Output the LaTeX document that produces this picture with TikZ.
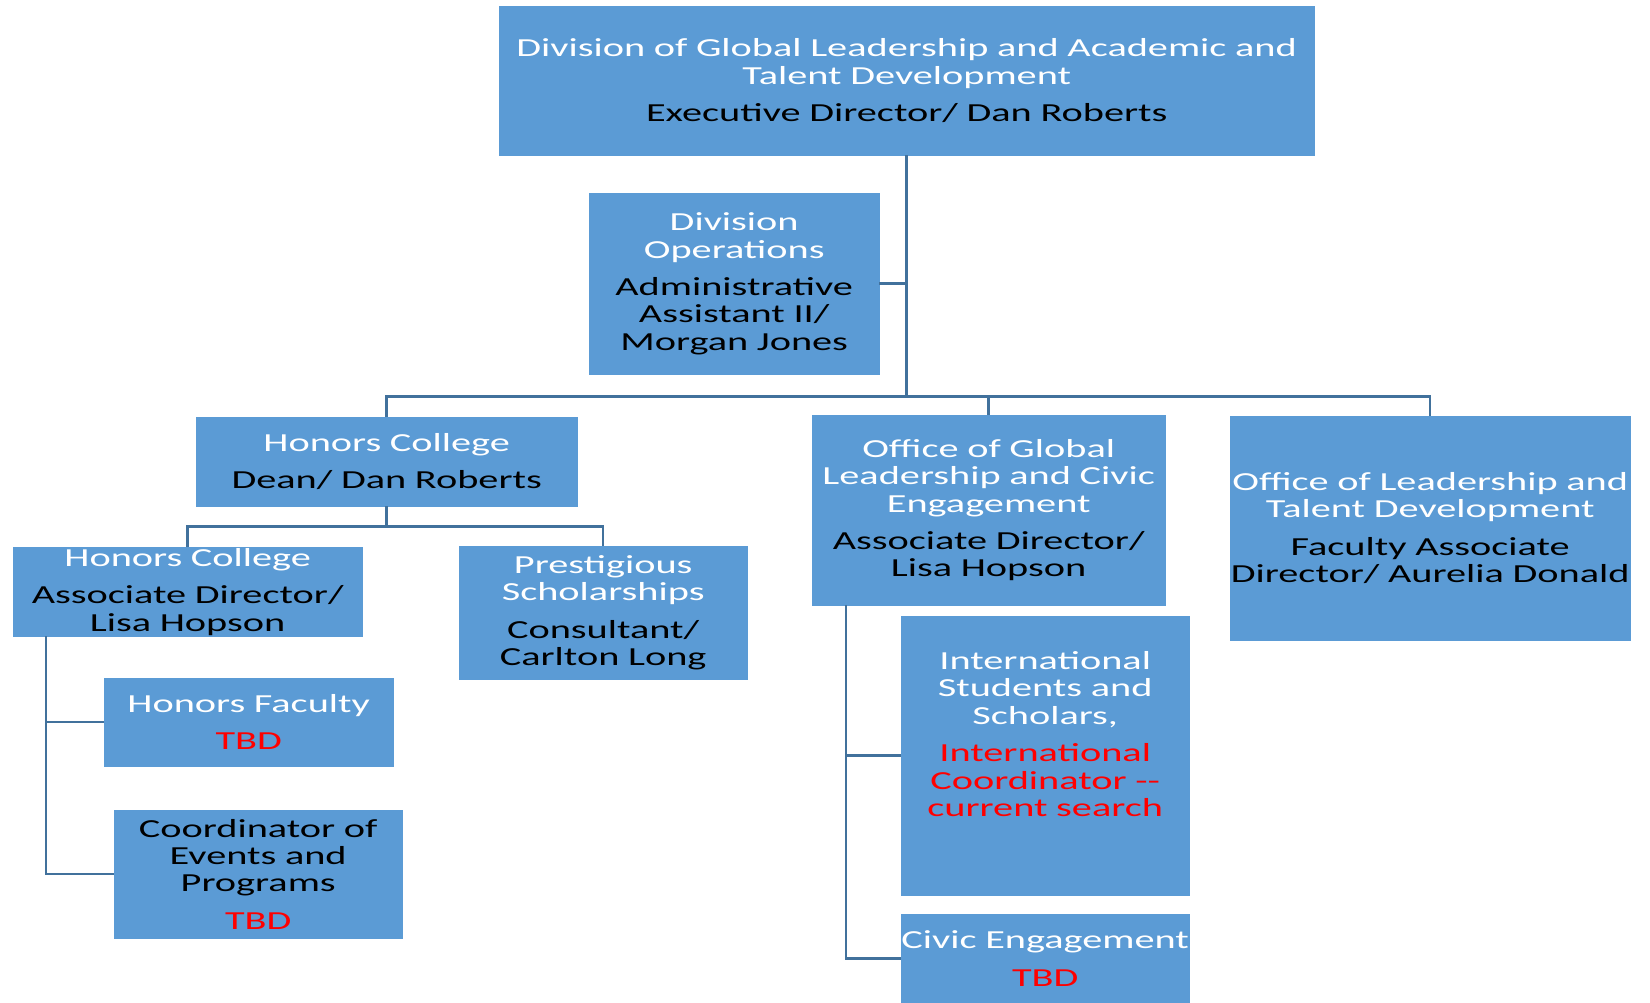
\documentclass[tikz,border=0pt]{standalone}
\usepackage{fontspec}
\setmainfont{Carlito}[FakeStretch=1.55]
\usepackage{xcolor}
\usepackage{tikz}
\definecolor{unitblue}{HTML}{5B9BD5}
\definecolor{linkblue}{HTML}{41719C}
\definecolor{tbdred}{HTML}{FF0000}

\begin{document}
\begin{tikzpicture}[x=1pt,y=-1pt,
	unit/.style 2 args={anchor=north west,fill=unitblue,draw=unitblue,inner sep=0pt,
		minimum width=#1pt,text width=#1pt,minimum height=#2pt,align=center,
		font=\fontsize{26}{27.4}\selectfont},
	link/.style={draw=linkblue,line width=2.5pt}]
	\useasboundingbox (0,0) rectangle (1650,1003);
	
	\node[unit={815}{149}] (top) at (499,6) {\color{white}Division of Global Leadership and Academic and\\Talent Development\\[10pt]\color{black}Executive Director/ Dan Roberts};
	\node[unit={290}{181}] (divops) at (589,193) {\color{white}Division\\Operations\\[10pt]\color{black}Administrative\\Assistant II/\\Morgan Jones};
	
	\node[unit={381}{89}] (honors) at (196,417) {\color{white}Honors College\\[10pt]\color{black}Dean/ Dan Roberts};
	\node[unit={349}{89}] (hcassoc) at (13,547) {\color{white}Honors College\\[10pt]\color{black}Associate Director/\\Lisa Hopson};
	\node[unit={288}{133}] (prestige) at (459,546) {\color{white}Prestigious\\Scholarships\\[10pt]\color{black}Consultant/\\Carlton Long};
	\node[unit={289}{88}] (hfaculty) at (104,678) {\color{white}Honors Faculty\\[10pt]\color{tbdred}TBD};
	\node[unit={288}{128}] (coord) at (114,810) {Coordinator of\\Events and\\Programs\\[10pt]\color{tbdred}TBD};
	
	\node[unit={353}{190}] (oglce) at (812,415) {\color{white}Office of Global\\Leadership and Civic\\Engagement\\[10pt]\color{black}Associate Director/\\Lisa Hopson};
	\node[unit={288}{279}] (intl) at (901,616) {\color{white}International\\Students and\\Scholars,\\[10pt]\color{tbdred}International\\Coordinator -{}-\\current search\\[16pt]\mbox{}};
	\node[unit={288}{89}] (civic) at (901,914) {\color{white}\mbox{Civic Engagement}\\[10pt]\color{tbdred}TBD};
	\node[unit={400}{224}] (oltd) at (1230,416) {\color{white}\mbox{Office of Leadership and}\\Talent Development\\[10pt]\color{black}Faculty Associate\\\mbox{Director/ Aurelia Donald}};
	
	\coordinate (bus) at ([yshift=-241pt]top.south);
	\draw[link] (top.south) -- (bus);
	\draw[link] (divops.east) -- (divops.east -| bus);
	\draw[link] (honors.north) |- (bus) -| (oltd.north);
	\draw[link] (bus -| oglce.north) -- (oglce.north);
	
	\draw[link] (honors.south) -- ([yshift=-20pt]honors.south);
	\draw[link] (hcassoc.north) |- ([yshift=-20pt]honors.south) -| (prestige.north);
	
	\coordinate (hcspine) at ([xshift=33pt]hcassoc.south west);
	\draw[link] (hcspine) |- (coord.west);
	\draw[link] (hfaculty.west) -- (hfaculty.west -| hcspine);
	
	\coordinate (gspine) at ([xshift=34pt]oglce.south west);
	\draw[link] (gspine) |- (civic.west);
	\draw[link] (intl.west) -- (intl.west -| gspine);
\end{tikzpicture}
\end{document}
